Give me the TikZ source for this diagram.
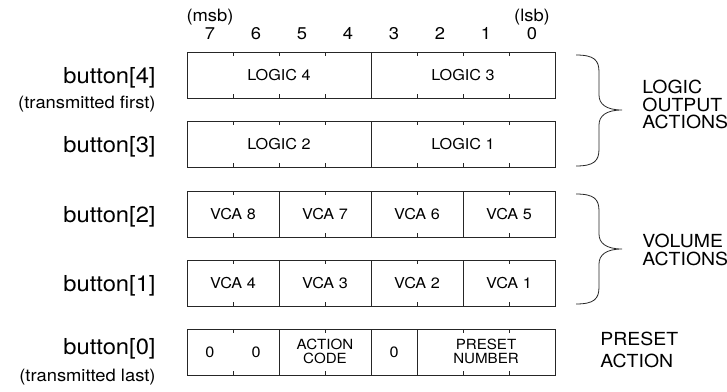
\documentclass[tikz,border=0pt]{standalone}
\usepackage{fontspec}
\setmainfont{TeX Gyre Heros}[FakeStretch=1.08]
\newcommand\rowbox[3]{% top edge, dividers, tick positions (bit boundaries counted from the left)
  \draw (187,#1) rectangle (555,#1+46);
  \foreach \k in {#2} \draw (187+46*\k,#1) -- (187+46*\k,#1+46);
  \foreach \k in {#3} {\draw (187+46*\k,#1) -- ++(0,4); \draw (187+46*\k,#1+46) -- ++(0,-4);}
}
\begin{document}
\begin{tikzpicture}[x=1pt,y=-1pt,line width=0.8pt,draw=black!85,
  cell/.style={font=\fontsize{15}{13}\selectfont,align=center,inner sep=0pt,anchor=center},
  twoline/.style={cell,font=\fontsize{14}{14}\selectfont},
  bitnum/.style={font=\fontsize{17}{17}\selectfont,inner sep=0pt,anchor=base},
  bytename/.style={font=\fontsize{22}{22}\selectfont,inner sep=0pt,anchor=base east},
  bytenote/.style={font=\fontsize{17}{17}\selectfont,inner sep=0pt,anchor=base east},
  group/.style={font=\fontsize{18}{18}\selectfont,inner sep=0pt,anchor=base west}]
\useasboundingbox (0,0) rectangle (727,391);

% bit numbers
\node[bitnum] (msb) at (210,21.5) {(msb)};
\node[bitnum] (lsb) at (532,21.5) {(lsb)};
\foreach \b [count=\i from 0] in {7,6,5,4,3,2,1,0}
  \node[bitnum] (bit\b) at (210+46*\i,39) {\b};

% byte rows
\rowbox{52}{4}{1,2,3,5,6,7}
\rowbox{121}{4}{1,2,3,5,6,7}
\rowbox{191}{2,4,6}{1,3,5,7}
\rowbox{260}{2,4,6}{1,3,5,7}
\rowbox{329}{2,4,5}{1,3,6,7}

% field contents
\node[cell] (logic4) at (279,75) {LOGIC 4};
\node[cell] (logic3) at (463,75) {LOGIC 3};
\node[cell] (logic2) at (279,144) {LOGIC 2};
\node[cell] (logic1) at (463,144) {LOGIC 1};
\node[cell] (vca8) at (233,214) {VCA 8};
\node[cell] (vca7) at (325,214) {VCA 7};
\node[cell] (vca6) at (417,214) {VCA 6};
\node[cell] (vca5) at (509,214) {VCA 5};
\node[cell] (vca4) at (233,283) {VCA 4};
\node[cell] (vca3) at (325,283) {VCA 3};
\node[cell] (vca2) at (417,283) {VCA 2};
\node[cell] (vca1) at (509,283) {VCA 1};
\node[cell] (zero7) at (210,352) {0};
\node[cell] (zero6) at (256,352) {0};
\node[twoline] (acode) at (325,351) {ACTION\\CODE};
\node[cell] (zero3) at (394,352) {0};
\node[twoline] (pnum) at (486,351) {PRESET\\NUMBER};

% byte names
\node[bytename] (b4) at (156,83) {button[4]};
\node[bytenote] (b4n) at (156,108) {(transmitted first)};
\node[bytename] (b3) at (156,152) {button[3]};
\node[bytename] (b2) at (156,222) {button[2]};
\node[bytename] (b1) at (156,291) {button[1]};
\node[bytename] (b0) at (156,354) {button[0]};
\node[bytenote] (b0n) at (156,381) {(transmitted last)};

% braces
\draw (576,55) .. controls (594,55) and (599,60) .. (599,72) -- (599,95)
  .. controls (599,104) and (606,110) .. (622,110)
  .. controls (606,110) and (599,116) .. (599,125) -- (599,149)
  .. controls (599,161) and (594,166) .. (576,166);
\draw (576,194) .. controls (594,194) and (599,199) .. (599,211) -- (599,234)
  .. controls (599,243) and (606,249) .. (622,249)
  .. controls (606,249) and (599,255) .. (599,264) -- (599,287)
  .. controls (599,299) and (594,304) .. (576,304);

% group labels
\node[group] (g1a) at (642,93) {LOGIC};
\node[group] (g1b) at (642,111) {OUTPUT};
\node[group] (g1c) at (642,128) {ACTIONS};
\node[group] (g2a) at (642,247) {VOLUME};
\node[group] (g2b) at (642,265) {ACTIONS};
\node[group] (g3a) at (600,345) {PRESET};
\node[group] (g3b) at (600,367) {ACTION};
\end{tikzpicture}
\end{document}
